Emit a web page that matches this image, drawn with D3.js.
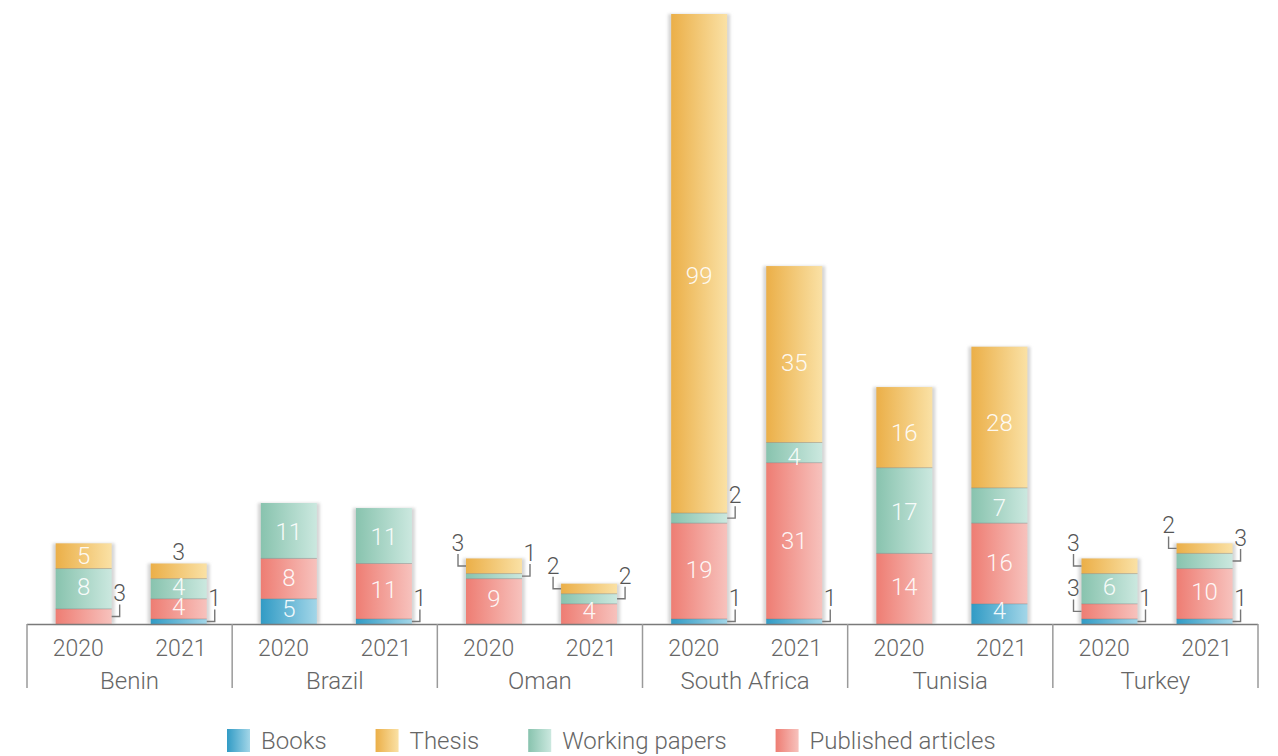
<!DOCTYPE html>
<html>
<head>
<meta charset="utf-8">
<script src="https://cdn.jsdelivr.net/npm/d3@7"></script>
<style>
  html, body { margin: 0; padding: 0; background: #fff; }
  svg { display: block; font-family: Roboto, "Noto Sans", sans-serif; font-weight: 300; }
</style>
</head>
<body>
<svg id="chart" width="1278" height="756"></svg>
<script>
// ---------------- DATA ----------------
const countries = ["Benin", "Brazil", "Oman", "South Africa", "Tunisia", "Turkey"];
const years = ["2020", "2021"];
// values in order: Benin 2020, Benin 2021, Brazil 2020, Brazil 2021, ...
const books     = [0, 1, 5, 1, 0, 0, 1, 1, 0, 4, 1, 1];
const published = [3, 4, 8, 11, 9, 4, 19, 31, 14, 16, 3, 10];
const working   = [8, 4, 11, 11, 1, 2, 2, 4, 17, 7, 6, 3];
const thesis    = [5, 3, 0, 0, 3, 2, 99, 35, 16, 28, 3, 2];
const stackOrder = ["Books", "Published articles", "Working papers", "Thesis"];
const legendOrder = ["Books", "Thesis", "Working papers", "Published articles"];

// placement of labels that are too small to sit inside their segment
const calloutSide = {
  "Benin|2020|Published articles": "R",
  "Benin|2021|Books": "R", "Benin|2021|Thesis": "T",
  "Brazil|2021|Books": "R",
  "Oman|2020|Thesis": "L", "Oman|2020|Working papers": "R",
  "Oman|2021|Thesis": "L", "Oman|2021|Working papers": "R",
  "South Africa|2020|Working papers": "R", "South Africa|2020|Books": "R",
  "South Africa|2021|Books": "R",
  "Turkey|2020|Thesis": "L", "Turkey|2020|Published articles": "L", "Turkey|2020|Books": "R",
  "Turkey|2021|Thesis": "L", "Turkey|2021|Working papers": "R", "Turkey|2021|Books": "R"
};

// ---------------- BUILD TABLE ----------------
const seriesValues = {
  "Books": books, "Published articles": published,
  "Working papers": working, "Thesis": thesis
};
const rows = [];
countries.forEach((c, ci) => years.forEach((yr, yi) => {
  const i = ci * years.length + yi;
  const r = { country: c, year: yr };
  stackOrder.forEach(s => r[s] = seriesValues[s][i]);
  rows.push(r);
}));

const gradStops = {
  "Books": ["#319bc5", "#a3d6e8"],
  "Thesis": ["#ebaf48", "#fae1a5"],
  "Working papers": ["#88c3ae", "#cbe8df"],
  "Published articles": ["#ee7d73", "#f7c2bd"]
};
const gradId = s => "g-" + s.replace(/\s+/g, "-");

// ---------------- LAYOUT ----------------
const svg = d3.select("#chart");
const left = 27, right = 1258, baseY = 624, topY = 14;

const x0 = d3.scaleBand().domain(countries).range([left, right]).padding(0);
const x1 = d3.scaleBand().domain(years).range([0, x0.bandwidth()])
  .paddingInner(0.411).paddingOuter(0.2845).align(0.53);
const xLab = d3.scaleBand().domain(years).range([0, x0.bandwidth()]).padding(0);

const stack = d3.stack().keys(stackOrder);
const stacked = stack(rows);
const maxTotal = d3.max(rows, r => d3.sum(stackOrder, s => r[s]));
const y = d3.scaleLinear().domain([0, maxTotal]).range([baseY, topY]);
// inner labels are placed on a slightly compressed scale (as in the original)
const yLab = d3.scaleLinear().domain([0, maxTotal]).range([baseY, topY + 26]);

// ---------------- DEFS ----------------
const defs = svg.append("defs");
stackOrder.forEach(s => {
  const g = defs.append("linearGradient").attr("id", gradId(s))
    .attr("x1", "0%").attr("x2", "100%").attr("y1", "0%").attr("y2", "0%");
  g.append("stop").attr("offset", "0%").attr("stop-color", gradStops[s][0]);
  g.append("stop").attr("offset", "100%").attr("stop-color", gradStops[s][1]);
});
defs.append("filter").attr("id", "blur").attr("x", "-50%").attr("width", "200%")
  .append("feGaussianBlur").attr("stdDeviation", 1.6);

const barX = r => x0(r.country) + x1(r.year);
const bw = x1.bandwidth();

// ---------------- BAR SHADOWS ----------------
svg.append("g").selectAll("rect").data(rows).join("rect")
  .attr("x", r => barX(r) - 3)
  .attr("width", bw + 6)
  .attr("y", r => y(d3.sum(stackOrder, s => r[s])))
  .attr("height", r => baseY - y(d3.sum(stackOrder, s => r[s])))
  .attr("fill", "#d6d6d6")
  .attr("filter", "url(#blur)");

// ---------------- SEGMENTS ----------------
const segG = svg.append("g");
stacked.forEach(layer => {
  const s = layer.key;
  layer.forEach((d, i) => {
    const r = rows[i];
    const v = d[1] - d[0];
    if (v <= 0) return;
    segG.append("rect")
      .attr("x", barX(r)).attr("width", bw)
      .attr("y", y(d[1])).attr("height", y(d[0]) - y(d[1]))
      .attr("fill", `url(#${gradId(s)})`);
  });
});
// thin separators at segment tops (except bar top)
stacked.forEach((layer, li) => {
  layer.forEach((d, i) => {
    const r = rows[i];
    const v = d[1] - d[0];
    const total = d3.sum(stackOrder, s => r[s]);
    if (v <= 0 || d[1] === total) return;
    segG.append("line")
      .attr("x1", barX(r)).attr("x2", barX(r) + bw)
      .attr("y1", y(d[1])).attr("y2", y(d[1]))
      .attr("stroke", "rgba(110,110,110,0.35)").attr("stroke-width", 1);
  });
});

// ---------------- VALUE LABELS ----------------
const labG = svg.append("g");
stacked.forEach(layer => {
  const s = layer.key;
  layer.forEach((d, i) => {
    const r = rows[i];
    const v = d[1] - d[0];
    if (v <= 0) return;
    const cy = (y(d[0]) + y(d[1])) / 2;
    const cx = barX(r) + bw / 2;
    const side = calloutSide[`${r.country}|${r.year}|${s}`];
    if (!side) {
      const ly = yLab((d[0] + d[1]) / 2) - 3;
      labG.append("text").attr("x", cx).attr("y", ly + 8)
        .attr("text-anchor", "middle").attr("font-size", 24)
        .attr("fill", "#ffffff").attr("fill-opacity", 0.92)
        .text(v);
    } else if (side === "T") {
      labG.append("text").attr("x", cx).attr("y", y(d[1]) - 4)
        .attr("text-anchor", "middle").attr("font-size", 23)
        .attr("fill", "#555").text(v);
    } else {
      const edge = side === "R" ? barX(r) + bw : barX(r);
      const lx = side === "R" ? edge + 8 : edge - 8;
      labG.append("path")
        .attr("d", `M${edge},${cy}H${lx}V${cy - 12}`)
        .attr("fill", "none").attr("stroke", "#777").attr("stroke-width", 1.4);
      labG.append("text").attr("x", lx).attr("y", cy - 15)
        .attr("text-anchor", "middle").attr("font-size", 23)
        .attr("fill", "#555").text(v);
    }
  });
});

// ---------------- AXIS ----------------
const axG = svg.append("g");
axG.append("line").attr("x1", left).attr("x2", right)
  .attr("y1", baseY + 0.5).attr("y2", baseY + 0.5)
  .attr("stroke", "#7a7a7a").attr("stroke-width", 1.5);
const bounds = countries.map(c => x0(c)).concat([x0(countries[countries.length - 1]) + x0.bandwidth()]);
axG.selectAll("line.sep").data(bounds).join("line").attr("class", "sep")
  .attr("x1", d => d).attr("x2", d => d)
  .attr("y1", baseY).attr("y2", 688)
  .attr("stroke", "#9a9a9a").attr("stroke-width", 1.5);
countries.forEach(c => {
  years.forEach(yr => {
    axG.append("text").attr("x", x0(c) + xLab(yr) + xLab.bandwidth() / 2).attr("y", 656)
      .attr("text-anchor", "middle").attr("font-size", 23).attr("fill", "#666").text(yr);
  });
  axG.append("text").attr("x", x0(c) + x0.bandwidth() / 2).attr("y", 689)
    .attr("text-anchor", "middle").attr("font-size", 24).attr("fill", "#666").text(c);
});

// ---------------- LEGEND ----------------
const lg = svg.append("g");
let lx = 227;
legendOrder.forEach(s => {
  lg.append("rect").attr("x", lx).attr("y", 729).attr("width", 23).attr("height", 23)
    .attr("fill", `url(#${gradId(s)})`);
  const t = lg.append("text").attr("x", lx + 34).attr("y", 749)
    .attr("font-size", 24).attr("fill", "#666").text(s);
  const w = t.node().getComputedTextLength();
  lx = lx + 34 + w + 49;
});
</script>
</body>
</html>
